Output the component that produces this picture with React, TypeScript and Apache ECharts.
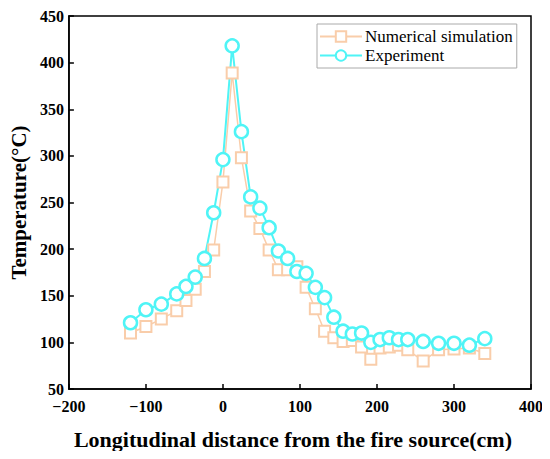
import React, { useEffect, useRef } from "react";
import * as echarts from "echarts";

const xPositions = [
  -120, -100, -80, -60, -48, -36, -24, -12, 0, 12, 24, 36, 48, 60, 72, 84, 96,
  108, 120, 132, 144, 156, 168, 180, 192, 204, 216, 228, 240, 260, 280, 300,
  320, 340,
];
const simulationValues = [
  110, 117, 125, 134, 145, 157, 176, 199, 272, 389, 298, 241, 222, 199, 178,
  178, 181, 159, 136, 112, 105, 101, 102, 95, 82, 94, 95, 97, 92, 80, 92, 93,
  94, 88,
];
const experimentValues = [
  121, 135, 141, 152, 160, 170, 190, 239, 296, 418, 326, 256, 244, 223, 198,
  190, 176, 174, 159, 148, 127, 112, 109, 110, 100, 103, 105, 103, 103, 101,
  99, 99, 97, 104,
];
const seriesNames = ["Numerical simulation", "Experiment"];
const xAxisTitle = "Longitudinal distance from the fire source(cm)";
const yAxisTitle = "Temperature(°C)";

const FONT = "Liberation Serif";

export default function App() {
  const ref = useRef<HTMLDivElement>(null);
  useEffect(() => {
    if (!ref.current) return;
    const chart = echarts.init(ref.current, null, { renderer: "svg" });
    const pair = (vals: number[]) => xPositions.map((x, i) => [x, vals[i]]);
    chart.setOption({
      animation: false,
      backgroundColor: "#fff",
      textStyle: { fontFamily: FONT },
      grid: {
        left: 67,
        right: 19,
        top: 16,
        bottom: 70,
        show: true,
        borderColor: "#000",
        borderWidth: 1.5,
        backgroundColor: "transparent",
      },
      legend: {
        orient: "vertical",
        left: 317,
        top: 24,
        padding: [4, 4, 4, 2],
        itemGap: 2,
        itemWidth: 42,
        itemHeight: 13,
        borderColor: "#aaa",
        borderWidth: 1,
        backgroundColor: "#fff",
        textStyle: { fontFamily: FONT, fontSize: 17, color: "#000", padding: [0, 0, 0, -2] },
        data: seriesNames,
      },
      xAxis: {
        type: "value",
        min: -200,
        max: 400,
        interval: 100,
        name: xAxisTitle,
        nameLocation: "middle",
        nameGap: 39,
        nameTextStyle: {
          fontFamily: FONT,
          fontSize: 22,
          fontWeight: "bold",
          color: "#000",
          padding: [0, 14, 0, 0],
        },
        axisLine: { show: true, onZero: false, lineStyle: { color: "#000", width: 1.5 } },
        axisTick: { show: true, inside: true, length: 5, lineStyle: { color: "#000", width: 1.5 } },
        axisLabel: {
          fontFamily: FONT,
          fontSize: 16,
          fontWeight: "bold",
          color: "#000",
          margin: 9,
          formatter: (v: number) => (v < 0 ? "\u2212" + Math.abs(v) : String(v)),
        },
        splitLine: { show: false },
      },
      yAxis: {
        type: "value",
        min: 50,
        max: 450,
        interval: 50,
        name: yAxisTitle,
        nameLocation: "middle",
        nameGap: 39,
        nameTextStyle: { fontFamily: FONT, fontSize: 21, fontWeight: "bold", color: "#000" },
        axisLine: { show: true, onZero: false, lineStyle: { color: "#000", width: 1.5 } },
        axisTick: { show: true, inside: true, length: 5, lineStyle: { color: "#000", width: 1.5 } },
        axisLabel: {
          fontFamily: FONT,
          fontSize: 16,
          fontWeight: "bold",
          color: "#000",
          margin: 5,
        },
        splitLine: { show: false },
      },
      series: [
        {
          name: seriesNames[0],
          type: "line",
          data: pair(simulationValues),
          symbol: "rect",
          symbolSize: 11,
          color: "#F9CDAA",
          lineStyle: { color: "#F9CDAA", width: 1.5 },
          itemStyle: { color: "#fff", borderColor: "#F9CDAA", borderWidth: 2 },
        },
        {
          name: seriesNames[1],
          type: "line",
          data: pair(experimentValues),
          symbol: "circle",
          symbolSize: 13,
          color: "#4FF4F6",
          lineStyle: { color: "#4FF4F6", width: 2 },
          itemStyle: { color: "#fff", borderColor: "#4FF4F6", borderWidth: 2.5 },
        },
      ],
    });
    return () => chart.dispose();
  }, []);
  return <div ref={ref} style={{ width: 550, height: 459, margin: -8 }} />;
}
